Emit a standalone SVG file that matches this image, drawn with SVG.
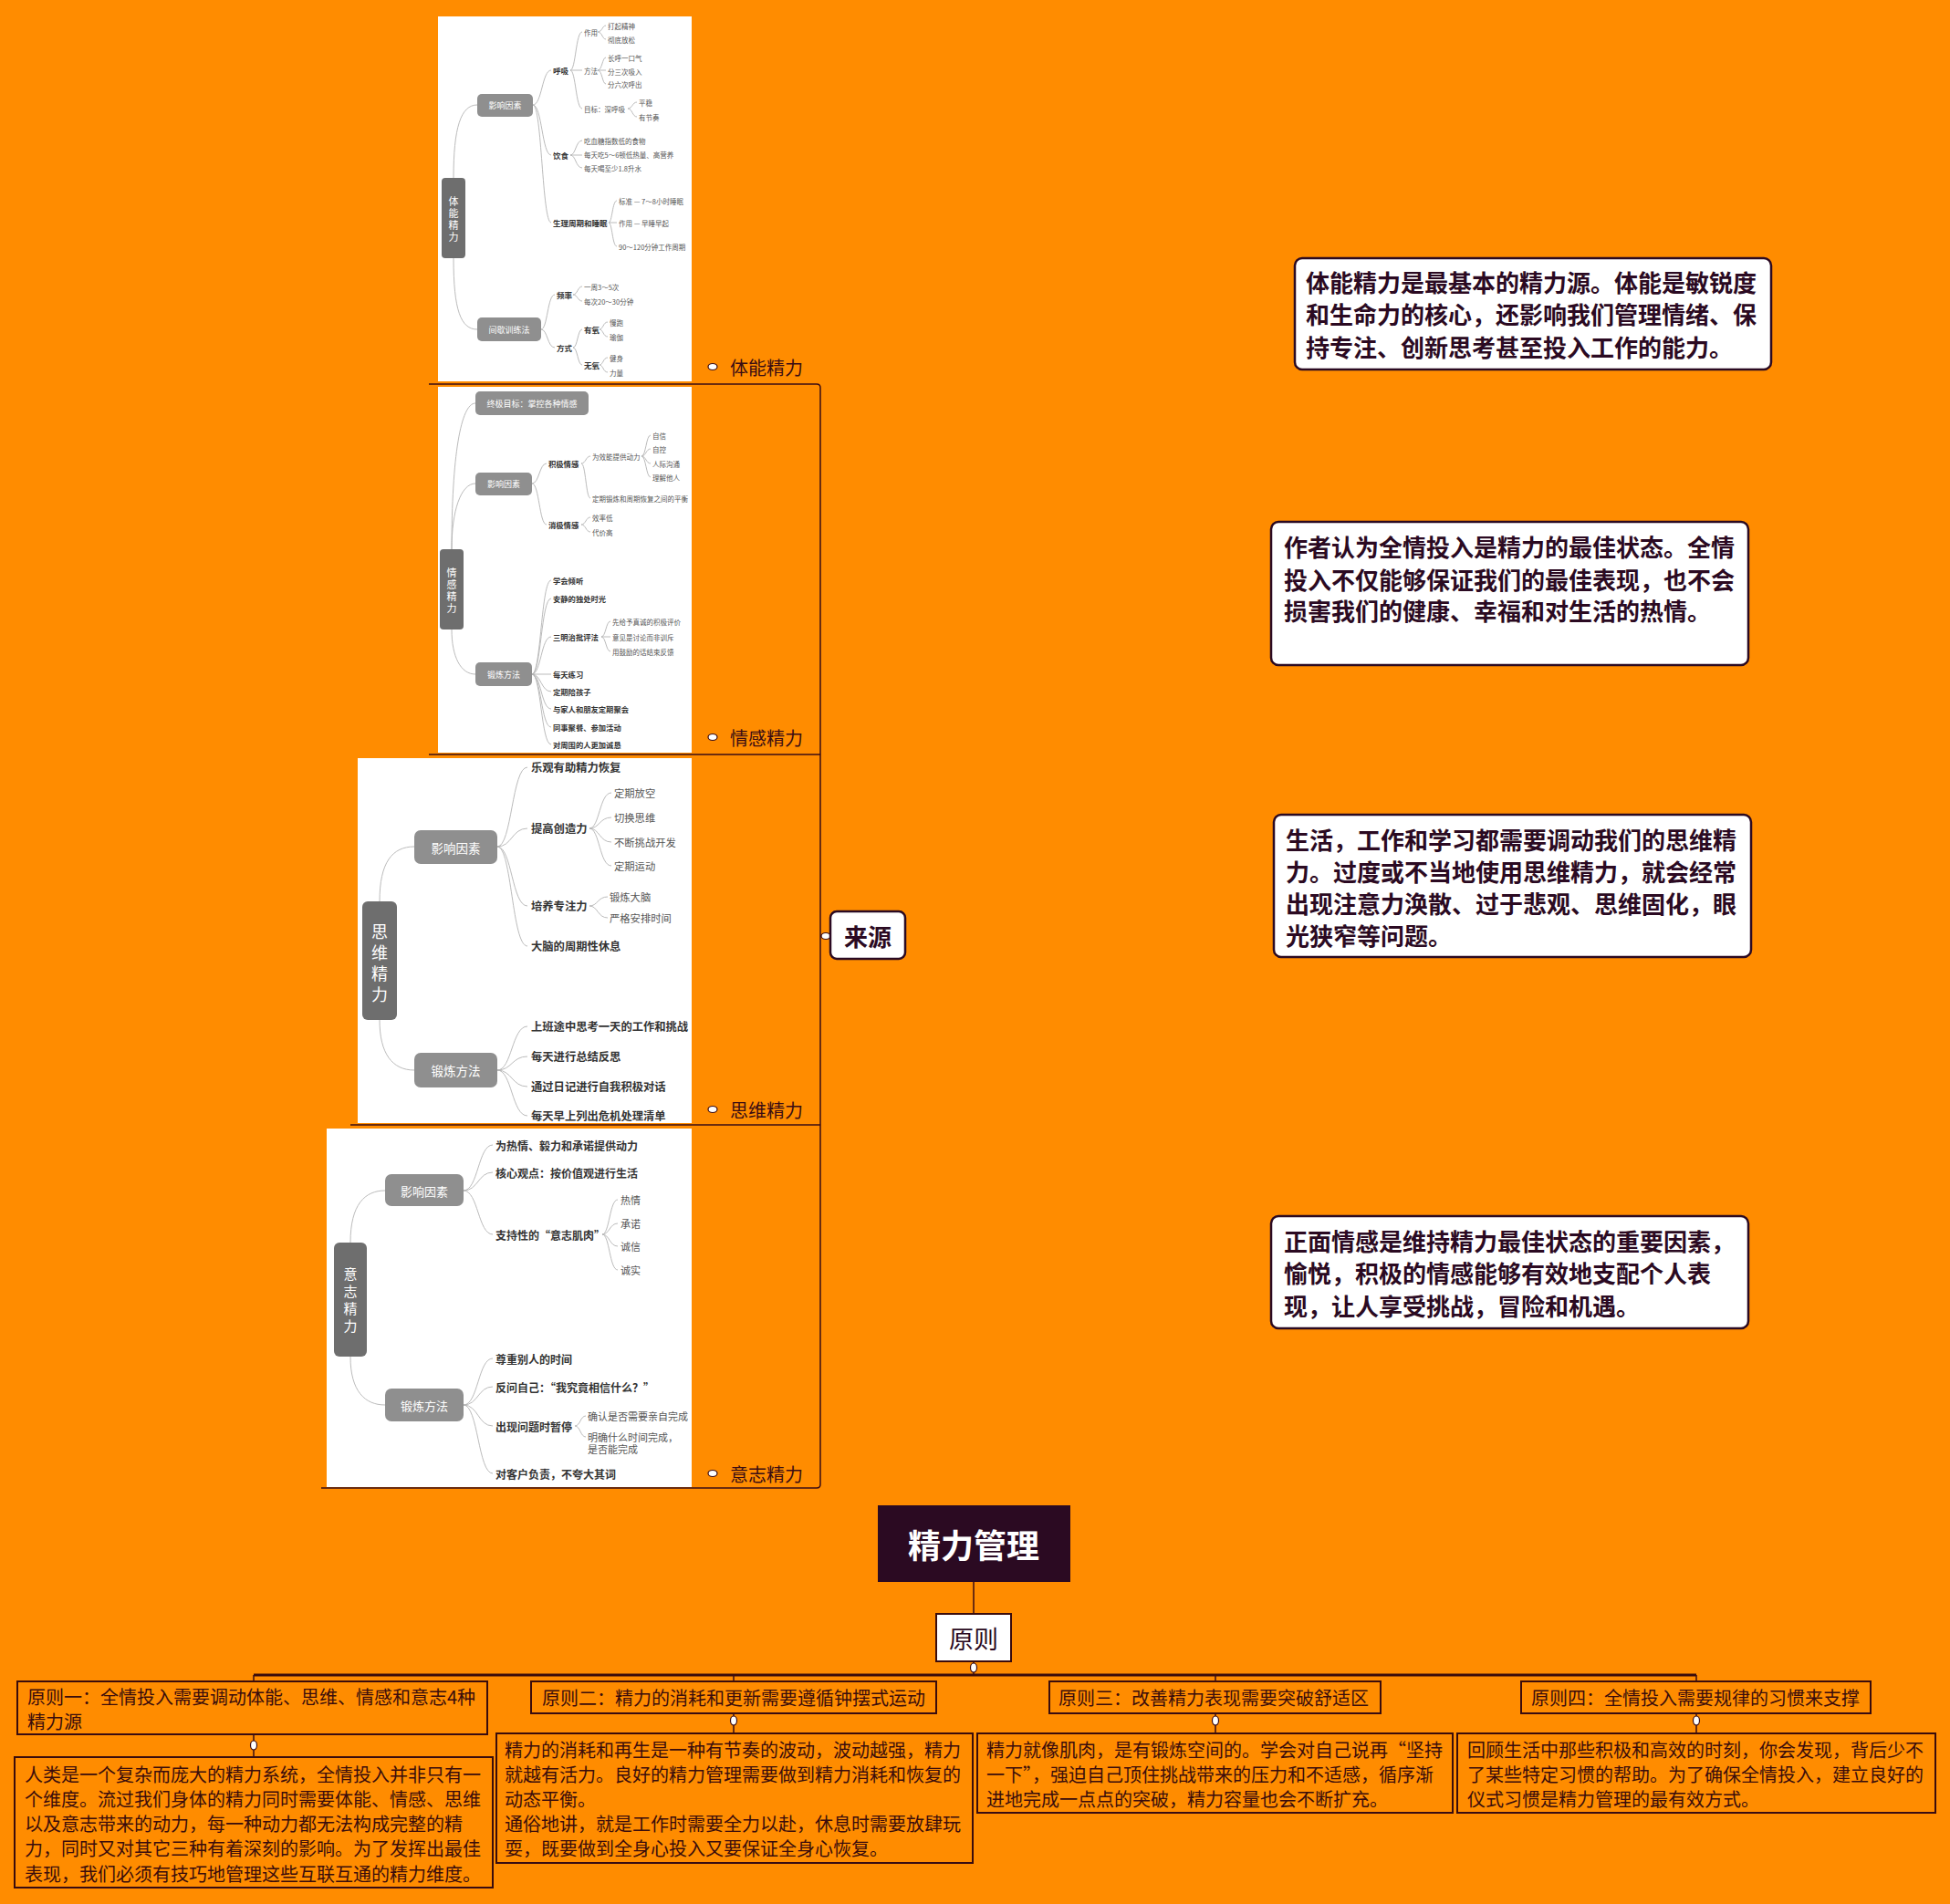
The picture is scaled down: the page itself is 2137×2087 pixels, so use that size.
<svg xmlns="http://www.w3.org/2000/svg" width="2137" height="2087" viewBox="0 0 2137 2087">
<defs>
<style>
text{font-family:"Noto Sans CJK SC","Noto Sans",sans-serif;}
.img{fill:#ffffff;}
.mb{fill:#6e6e6e;}
.sb{fill:#8f8f8f;}
.bt{fill:#ffffff;text-anchor:middle;dominant-baseline:central;}
.b{fill:#333333;font-weight:bold;dominant-baseline:central;}
.n{fill:#555555;dominant-baseline:central;}
.c{fill:none;stroke:#b3b3b3;stroke-width:0.9;}
.ln{fill:none;stroke:#3a0c14;stroke-width:1.5;}
.lbl{fill:#3a0c14;font-size:20px;dominant-baseline:central;}
.dot{fill:#ffffff;stroke:#3a0c14;stroke-width:1.2;}
.rbox{fill:#ffffff;stroke:#2b0a22;stroke-width:2.5;}
.rt{fill:#2b0a22;font-size:26px;font-weight:bold;dominant-baseline:central;}
.pbox{fill:none;stroke:#3a0c0c;stroke-width:2;}
.pt{fill:#3a0c0c;font-size:20px;dominant-baseline:central;}
</style>
</defs>
<rect x="0" y="0" width="2137" height="2087" fill="#FF8C00"/>

<!-- connectors of the main map -->
<g id="connectors">
<path class="ln" d="M470,421 H895 Q899,421 899,425 V1627 Q899,1631 895,1631 H352"/>
<path class="ln" d="M470,827 H899"/>
<path class="ln" d="M384,1233 H899"/>
<path class="ln" d="M899,1026 H910"/>
<ellipse class="dot" cx="905" cy="1026" rx="5" ry="3.5"/>
<path class="ln" d="M1067,1734 V1769"/>
<path class="ln" d="M1067,1821 V1836"/>
<path fill="none" stroke="#3a0c0c" stroke-width="3" d="M278,1836 H1859"/>
<path class="ln" d="M278,1836 V1843 M804,1836 V1843 M1332,1836 V1843 M1859,1836 V1843"/>
<ellipse class="dot" cx="1067" cy="1828" rx="3.5" ry="5"/>
<path class="ln" d="M278,1901 V1926 M804,1878 V1900 M1332,1878 V1900 M1859,1878 V1900"/>
<ellipse class="dot" cx="278" cy="1913" rx="3.5" ry="5"/>
<ellipse class="dot" cx="804" cy="1886" rx="3.5" ry="5"/>
<ellipse class="dot" cx="1332" cy="1886" rx="3.5" ry="5"/>
<ellipse class="dot" cx="1859" cy="1886" rx="3.5" ry="5"/>
</g>

<!-- root -->
<g id="root">
<rect x="962" y="1650" width="211" height="84" fill="#2b0a22"/>
<text x="1067" y="1692" fill="#ffffff" font-size="36" font-weight="bold" text-anchor="middle" dominant-baseline="central">精力管理</text>
</g>

<g id="yuanze">
<rect x="1026" y="1769" width="82" height="52" fill="#ffffff" stroke="#3a0c0c" stroke-width="2"/>
<text x="1067" y="1795" fill="#2b0a22" font-size="27" text-anchor="middle" dominant-baseline="central">原则</text>
</g>

<g id="laiyuan">
<rect class="rbox" x="910" y="999" width="82" height="52" rx="7"/>
<text x="951" y="1025" fill="#2b0a22" font-size="26" font-weight="bold" text-anchor="middle" dominant-baseline="central">来源</text>
</g>

<!-- Image 1: 体能精力 -->
<g id="tineng">
<rect class="img" x="480" y="18" width="278" height="400"/>
<g>
<path class="c" d="M497,195 C497,140 505,115 523,115"/>
<path class="c" d="M497,283 C497,340 505,361 523,361"/>
<path class="c" d="M584,115 C594,115 594,77 604,77 M584,115 C594,115 594,170 604,170 M584,115 C594,115 594,244 604,244"/>
<path class="c" d="M625,77 C631,77 631,35 638,35 M625,77 H638 M625,77 C631,77 631,119 638,119"/>
<path class="c" d="M655,35 C660,35 660,28 664,28 M655,35 C660,35 660,43 664,43"/>
<path class="c" d="M655,77 C660,77 660,63 664,63 M655,77 H664 M655,77 C660,77 660,92 664,92"/>
<path class="c" d="M688,119 C693,119 693,112 698,112 M688,119 C693,119 693,128 698,128"/>
<path class="c" d="M625,170 C631,170 631,154 638,154 M625,170 H638 M625,170 C631,170 631,184 638,184"/>
<path class="c" d="M667,244 C671,244 671,220 676,220 M667,244 H676 M667,244 C671,244 671,270 676,270"/>
<path class="c" d="M593,361 C600,361 600,323 608,323 M593,361 C600,361 600,381 608,381"/>
<path class="c" d="M628,323 C633,323 633,314 638,314 M628,323 C633,323 633,330 638,330"/>
<path class="c" d="M628,381 C633,381 633,361 638,361 M628,381 C633,381 633,400 638,400"/>
<path class="c" d="M657,361 C661,361 661,353 666,353 M657,361 C661,361 661,369 666,369"/>
<path class="c" d="M657,400 C661,400 661,392 666,392 M657,400 C661,400 661,408 666,408"/>
</g>
<rect class="mb" x="484" y="195" width="26" height="88" rx="4"/>
<text class="bt" font-size="11"><tspan x="497" y="220">体</tspan><tspan x="497" y="233">能</tspan><tspan x="497" y="246">精</tspan><tspan x="497" y="259">力</tspan></text>
<rect class="sb" x="523" y="103" width="61" height="25" rx="5"/>
<text class="bt" x="553.5" y="115.5" font-size="9">影响因素</text>
<rect class="sb" x="523" y="348" width="70" height="26" rx="5"/>
<text class="bt" x="558" y="361" font-size="9">间歇训练法</text>
<g font-size="8.5">
<text class="b" x="606" y="77">呼吸</text>
<text class="b" x="606" y="170">饮食</text>
<text class="b" x="606" y="244">生理周期和睡眠</text>
<text class="b" x="610" y="323">频率</text>
<text class="b" x="610" y="381">方式</text>
<text class="b" x="640" y="361">有氧</text>
<text class="b" x="640" y="400">无氧</text>
</g>
<g font-size="7.5">
<text class="n" x="640" y="35">作用</text>
<text class="n" x="666" y="28">打起精神</text>
<text class="n" x="666" y="43">彻底放松</text>
<text class="n" x="640" y="77">方法</text>
<text class="n" x="666" y="63">长呼一口气</text>
<text class="n" x="666" y="78">分三次吸入</text>
<text class="n" x="666" y="92">分六次呼出</text>
<text class="n" x="640" y="119">目标：深呼吸</text>
<text class="n" x="700" y="112">平稳</text>
<text class="n" x="700" y="128">有节奏</text>
<text class="n" x="640" y="154">吃血糖指数低的食物</text>
<text class="n" x="640" y="169">每天吃5～6顿低热量、高营养</text>
<text class="n" x="640" y="184">每天喝至少1.8升水</text>
<text class="n" x="678" y="220">标准 — 7～8小时睡眠</text>
<text class="n" x="678" y="244">作用 — 早睡早起</text>
<text class="n" x="678" y="270">90～120分钟工作周期</text>
<text class="n" x="640" y="314">一周3～5次</text>
<text class="n" x="640" y="330">每次20～30分钟</text>
<text class="n" x="668" y="353">慢跑</text>
<text class="n" x="668" y="369">瑜伽</text>
<text class="n" x="668" y="392">健身</text>
<text class="n" x="668" y="408">力量</text>
</g>
<ellipse class="dot" cx="781" cy="402" rx="5" ry="3.5"/>
<text class="lbl" x="800" y="402">体能精力</text>
</g>

<!-- Image 2: 情感精力 -->
<g id="qinggan">
<rect class="img" x="480" y="424" width="278" height="401"/>
<g>
<path class="c" d="M495,602 C495,500 505,442 521,442"/>
<path class="c" d="M495,602 C495,560 505,530 521,530"/>
<path class="c" d="M495,690 C495,720 505,739 521,739"/>
<path class="c" d="M583,530 C591,530 591,508 599,508 M583,530 C591,530 591,575 599,575"/>
<path class="c" d="M637,508 C642,508 642,500 647,500 M637,508 C642,508 642,546 647,546"/>
<path class="c" d="M703,500 C708,500 708,477 713,477 M703,500 C708,500 708,492 713,492 M703,500 C708,500 708,508 713,508 M703,500 C708,500 708,523 713,523"/>
<path class="c" d="M637,575 C642,575 642,567 647,567 M637,575 C642,575 642,583 647,583"/>
<path class="c" d="M583,739 C593,739 593,636 604,636 M583,739 C593,739 593,656 604,656 M583,739 C593,739 593,698 604,698 M583,739 H604 M583,739 C593,739 593,758 604,758 M583,739 C593,739 593,777 604,777 M583,739 C593,739 593,797 604,797 M583,739 C593,739 593,816 604,816"/>
<path class="c" d="M659,698 C664,698 664,681 669,681 M659,698 H669 M659,698 C664,698 664,714 669,714"/>
</g>
<rect class="mb" x="482" y="602" width="26" height="88" rx="4"/>
<text class="bt" font-size="11"><tspan x="495" y="627">情</tspan><tspan x="495" y="640">感</tspan><tspan x="495" y="653">精</tspan><tspan x="495" y="666">力</tspan></text>
<rect class="sb" x="521" y="429" width="124" height="26" rx="5"/>
<text class="bt" x="583" y="442" font-size="9">终极目标：掌控各种情感</text>
<rect class="sb" x="521" y="518" width="62" height="25" rx="5"/>
<text class="bt" x="552" y="530.5" font-size="9">影响因素</text>
<rect class="sb" x="521" y="726" width="62" height="26" rx="5"/>
<text class="bt" x="552" y="739" font-size="9">锻炼方法</text>
<g font-size="8.3">
<text class="b" x="601" y="508">积极情感</text>
<text class="b" x="601" y="575">消极情感</text>
<text class="b" x="606" y="636">学会倾听</text>
<text class="b" x="606" y="656">安静的独处时光</text>
<text class="b" x="606" y="698">三明治批评法</text>
<text class="b" x="606" y="739">每天练习</text>
<text class="b" x="606" y="758">定期陪孩子</text>
<text class="b" x="606" y="777">与家人和朋友定期聚会</text>
<text class="b" x="606" y="797">同事聚餐、参加活动</text>
<text class="b" x="606" y="816">对周围的人更加诚恳</text>
</g>
<g font-size="7.5">
<text class="n" x="649" y="500">为效能提供动力</text>
<text class="n" x="715" y="477">自信</text>
<text class="n" x="715" y="492">自控</text>
<text class="n" x="715" y="508">人际沟通</text>
<text class="n" x="715" y="523">理解他人</text>
<text class="n" x="649" y="546">定期锻炼和周期恢复之间的平衡</text>
<text class="n" x="649" y="567">效率低</text>
<text class="n" x="649" y="583">代价高</text>
<text class="n" x="671" y="681">先给予真诚的积极评价</text>
<text class="n" x="671" y="698">意见是讨论而非训斥</text>
<text class="n" x="671" y="714">用鼓励的话结束反馈</text>
</g>
<ellipse class="dot" cx="781" cy="808" rx="5" ry="3.5"/>
<text class="lbl" x="800" y="808">情感精力</text>
</g>

<!-- Image 3: 思维精力 -->
<g id="siwei">
<rect class="img" x="392" y="831" width="366" height="400"/>
<g>
<path class="c" d="M416,988 C416,945 430,928 454,928"/>
<path class="c" d="M416,1118 C416,1155 430,1173 454,1173"/>
<path class="c" d="M545,928 C561,928 561,841 578,841 M545,928 C561,928 561,908 578,908 M545,928 C561,928 561,993 578,993 M545,928 C561,928 561,1037 578,1037"/>
<path class="c" d="M646,908 C657,908 657,869 670,869 M646,908 C657,908 657,896 670,896 M646,908 C657,908 657,923 670,923 M646,908 C657,908 657,949 670,949"/>
<path class="c" d="M646,993 C655,993 655,983 666,983 M646,993 C655,993 655,1006 666,1006"/>
<path class="c" d="M545,1173 C561,1173 561,1125 578,1125 M545,1173 C561,1173 561,1158 578,1158 M545,1173 C561,1173 561,1191 578,1191 M545,1173 C561,1173 561,1223 578,1223"/>
</g>
<rect class="mb" x="397" y="988" width="38" height="130" rx="6"/>
<text class="bt" font-size="18"><tspan x="416" y="1020">思</tspan><tspan x="416" y="1043">维</tspan><tspan x="416" y="1066">精</tspan><tspan x="416" y="1089">力</tspan></text>
<rect class="sb" x="454" y="910" width="91" height="37" rx="7"/>
<text class="bt" x="499.5" y="928.5" font-size="13.5">影响因素</text>
<rect class="sb" x="454" y="1154" width="91" height="38" rx="7"/>
<text class="bt" x="499.5" y="1173" font-size="13.5">锻炼方法</text>
<g font-size="12.3">
<text class="b" x="582" y="841">乐观有助精力恢复</text>
<text class="b" x="582" y="908">提高创造力</text>
<text class="b" x="582" y="993">培养专注力</text>
<text class="b" x="582" y="1037">大脑的周期性休息</text>
<text class="b" x="582" y="1125">上班途中思考一天的工作和挑战</text>
<text class="b" x="582" y="1158">每天进行总结反思</text>
<text class="b" x="582" y="1191">通过日记进行自我积极对话</text>
<text class="b" x="582" y="1223">每天早上列出危机处理清单</text>
</g>
<g font-size="11.3">
<text class="n" x="673" y="869">定期放空</text>
<text class="n" x="673" y="896">切换思维</text>
<text class="n" x="673" y="923">不断挑战开发</text>
<text class="n" x="673" y="949">定期运动</text>
<text class="n" x="668" y="983">锻炼大脑</text>
<text class="n" x="668" y="1006">严格安排时间</text>
</g>
<ellipse class="dot" cx="781" cy="1216" rx="5" ry="3.5"/>
<text class="lbl" x="800" y="1216">思维精力</text>
</g>

<!-- Image 4: 意志精力 -->
<g id="yizhi">
<rect class="img" x="358" y="1237" width="400" height="393"/>
<g>
<path class="c" d="M384,1362 C384,1320 400,1305 422,1305"/>
<path class="c" d="M384,1487 C384,1525 400,1540 422,1540"/>
<path class="c" d="M508,1305 C524,1305 524,1255 540,1255 M508,1305 C524,1305 524,1285 540,1285 M508,1305 C524,1305 524,1353 540,1353"/>
<path class="c" d="M660,1353 C668,1353 668,1315 677,1315 M660,1353 C668,1353 668,1341 677,1341 M660,1353 C668,1353 668,1366 677,1366 M660,1353 C668,1353 668,1392 677,1392"/>
<path class="c" d="M508,1540 C524,1540 524,1489 540,1489 M508,1540 C524,1540 524,1520 540,1520 M508,1540 C524,1540 524,1563 540,1563 M508,1540 C524,1540 524,1615 540,1615"/>
<path class="c" d="M630,1563 C636,1563 636,1552 642,1552 M630,1563 C636,1563 636,1575 642,1575"/>
</g>
<rect class="mb" x="366" y="1362" width="36" height="125" rx="6"/>
<text class="bt" font-size="15"><tspan x="384" y="1395">意</tspan><tspan x="384" y="1414">志</tspan><tspan x="384" y="1433">精</tspan><tspan x="384" y="1452">力</tspan></text>
<rect class="sb" x="422" y="1287" width="86" height="35" rx="7"/>
<text class="bt" x="465" y="1305" font-size="13">影响因素</text>
<rect class="sb" x="422" y="1522" width="86" height="36" rx="7"/>
<text class="bt" x="465" y="1540" font-size="13">锻炼方法</text>
<g font-size="12">
<text class="b" x="543" y="1255">为热情、毅力和承诺提供动力</text>
<text class="b" x="543" y="1285">核心观点：按价值观进行生活</text>
<text class="b" x="543" y="1353">支持性的“意志肌肉”</text>
<text class="b" x="543" y="1489">尊重别人的时间</text>
<text class="b" x="543" y="1520">反问自己：“我究竟相信什么？”</text>
<text class="b" x="543" y="1563">出现问题时暂停</text>
<text class="b" x="543" y="1615">对客户负责，不夸大其词</text>
</g>
<g font-size="11">
<text class="n" x="680" y="1315">热情</text>
<text class="n" x="680" y="1341">承诺</text>
<text class="n" x="680" y="1366">诚信</text>
<text class="n" x="680" y="1392">诚实</text>
<text class="n" x="644" y="1552">确认是否需要亲自完成</text>
<text class="n" x="644" y="1575">明确什么时间完成，</text>
<text class="n" x="644" y="1588">是否能完成</text>
</g>
<ellipse class="dot" cx="781" cy="1615" rx="5" ry="3.5"/>
<text class="lbl" x="800" y="1615">意志精力</text>
</g>

<!-- Right note boxes -->
<g id="note1">
<rect class="rbox" x="1419" y="283" width="522" height="122" rx="8"/>
<text class="rt"><tspan x="1431" y="308">体能精力是最基本的精力源。体能是敏锐度</tspan><tspan x="1431" y="343">和生命力的核心，还影响我们管理情绪、保</tspan><tspan x="1431" y="379">持专注、创新思考甚至投入工作的能力。</tspan></text>
</g>
<g id="note2">
<rect class="rbox" x="1393" y="572" width="523" height="157" rx="8"/>
<text class="rt"><tspan x="1407" y="598">作者认为全情投入是精力的最佳状态。全情</tspan><tspan x="1407" y="634">投入不仅能够保证我们的最佳表现，也不会</tspan><tspan x="1407" y="668">损害我们的健康、幸福和对生活的热情。</tspan></text>
</g>
<g id="note3">
<rect class="rbox" x="1396" y="893" width="523" height="156" rx="8"/>
<text class="rt"><tspan x="1409" y="919">生活，工作和学习都需要调动我们的思维精</tspan><tspan x="1409" y="954">力。过度或不当地使用思维精力，就会经常</tspan><tspan x="1409" y="989">出现注意力涣散、过于悲观、思维固化，眼</tspan><tspan x="1409" y="1024">光狭窄等问题。</tspan></text>
</g>
<g id="note4">
<rect class="rbox" x="1393" y="1333" width="523" height="123" rx="8"/>
<text class="rt"><tspan x="1407" y="1359">正面情感是维持精力最佳状态的重要因素，</tspan><tspan x="1407" y="1394">愉悦，积极的情感能够有效地支配个人表</tspan><tspan x="1407" y="1430">现，让人享受挑战，冒险和机遇。</tspan></text>
</g>

<!-- Principles -->
<g id="p1">
<rect class="pbox" x="19" y="1843" width="515" height="58"/>
<path class="ln" stroke-width="3" d="M19,1901 H534"/>
<text class="pt"><tspan x="30" y="1859">原则一：全情投入需要调动体能、思维、情感和意志4种</tspan><tspan x="30" y="1886">精力源</tspan></text>
</g>
<g id="p2">
<rect class="pbox" x="582" y="1843" width="444" height="35"/>
<path class="ln" stroke-width="3" d="M582,1878 H1026"/>
<text class="pt" x="594" y="1860">原则二：精力的消耗和更新需要遵循钟摆式运动</text>
</g>
<g id="p3">
<rect class="pbox" x="1150" y="1843" width="363" height="35"/>
<path class="ln" stroke-width="3" d="M1150,1878 H1513"/>
<text class="pt" x="1160" y="1860">原则三：改善精力表现需要突破舒适区</text>
</g>
<g id="p4">
<rect class="pbox" x="1667" y="1843" width="383" height="35"/>
<path class="ln" stroke-width="3" d="M1667,1878 H2050"/>
<text class="pt" x="1678" y="1860">原则四：全情投入需要规律的习惯来支撑</text>
</g>

<g id="d1">
<rect class="pbox" x="16" y="1926" width="524" height="143"/>
<path class="ln" stroke-width="3" d="M16,2069 H540"/>
<text class="pt"><tspan x="27" y="1944">人类是一个复杂而庞大的精力系统，全情投入并非只有一</tspan><tspan x="27" y="1971">个维度。流过我们身体的精力同时需要体能、情感、思维</tspan><tspan x="27" y="1998">以及意志带来的动力，每一种动力都无法构成完整的精</tspan><tspan x="27" y="2025">力，同时又对其它三种有着深刻的影响。为了发挥出最佳</tspan><tspan x="27" y="2053">表现，我们必须有技巧地管理这些互联互通的精力维度。</tspan></text>
</g>
<g id="d2">
<rect class="pbox" x="544" y="1900" width="522" height="142"/>
<path class="ln" stroke-width="3" d="M544,2042 H1066"/>
<text class="pt"><tspan x="553" y="1917">精力的消耗和再生是一种有节奏的波动，波动越强，精力</tspan><tspan x="553" y="1944">就越有活力。良好的精力管理需要做到精力消耗和恢复的</tspan><tspan x="553" y="1971">动态平衡。</tspan><tspan x="553" y="1998">通俗地讲，就是工作时需要全力以赴，休息时需要放肆玩</tspan><tspan x="553" y="2025">耍，既要做到全身心投入又要保证全身心恢复。</tspan></text>
</g>
<g id="d3">
<rect class="pbox" x="1071" y="1900" width="521" height="87"/>
<path class="ln" stroke-width="3" d="M1071,1987 H1592"/>
<text class="pt"><tspan x="1081" y="1917">精力就像肌肉，是有锻炼空间的。学会对自己说再“坚持</tspan><tspan x="1081" y="1944">一下”，强迫自己顶住挑战带来的压力和不适感，循序渐</tspan><tspan x="1081" y="1971">进地完成一点点的突破，精力容量也会不断扩充。</tspan></text>
</g>
<g id="d4">
<rect class="pbox" x="1597" y="1900" width="524" height="87"/>
<path class="ln" stroke-width="3" d="M1597,1987 H2121"/>
<text class="pt"><tspan x="1608" y="1917">回顾生活中那些积极和高效的时刻，你会发现，背后少不</tspan><tspan x="1608" y="1944">了某些特定习惯的帮助。为了确保全情投入，建立良好的</tspan><tspan x="1608" y="1971">仪式习惯是精力管理的最有效方式。</tspan></text>
</g>
</svg>
